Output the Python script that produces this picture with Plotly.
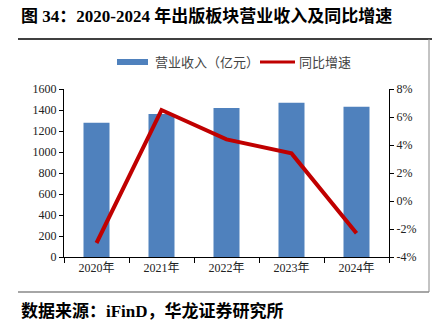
import plotly.graph_objects as go

categories = ["2020年", "2021年", "2022年", "2023年", "2024年"]
revenue = [1279, 1362, 1419, 1470, 1432]
growth = [-3.0, 6.5, 4.4, 3.4, -2.3]
left_ticks = [0, 200, 400, 600, 800, 1000, 1200, 1400, 1600]
right_ticks = [-4, -2, 0, 2, 4, 6, 8]
right_labels = ["-4%", "-2%", "0%", "2%", "4%", "6%", "8%"]
bar_name = "营业收入（亿元）"
line_name = "同比增速"

serif = "Liberation Serif, Noto Sans CJK SC"
cjk = "Noto Sans CJK SC"

W, H = 432, 332
L, R, T, B = 64, 43, 89, 75
PW, PH = W - L - R, H - T - B


def px(x):
    return (x - L) / PW


def py(y):
    return (H - B - y) / PH


fig = go.Figure()
fig.add_trace(go.Bar(
    x=categories, y=revenue, name=bar_name,
    marker=dict(color="#4F81BD", line=dict(width=0)), width=0.4, yaxis="y",
))
fig.add_trace(go.Scatter(
    x=categories, y=growth, name=line_name, mode="lines",
    line=dict(color="#C00000", width=4), yaxis="y2",
))

fig.update_layout(
    width=W, height=H,
    margin=dict(l=L, r=R, t=T, b=B),
    paper_bgcolor="white", plot_bgcolor="white",
    showlegend=False,
    xaxis=dict(type="category", showline=True, linecolor="#000000", linewidth=1,
               ticks="outside", tickson="boundaries", ticklen=5, tickcolor="#000000",
               tickfont=dict(family=serif, size=12, color="#222222"),
               showgrid=False),
    yaxis=dict(range=[0, 1600], tickvals=left_ticks, showline=True, linecolor="#000000",
               linewidth=1, ticks="outside", ticklen=4, tickcolor="#000000",
               tickfont=dict(family=serif, size=12, color="#222222"), showgrid=False,
               zeroline=False),
    yaxis2=dict(range=[-4, 8], tickvals=right_ticks, ticktext=right_labels,
                overlaying="y", side="right", showline=True, linecolor="#000000",
                linewidth=1, ticks="outside", ticklen=4, tickcolor="#000000",
                tickfont=dict(family=serif, size=12, color="#222222"), showgrid=False,
                zeroline=False),
)

# Manual legend
fig.add_shape(type="rect", xref="paper", yref="paper",
              x0=px(117), x1=px(148), y0=py(65), y1=py(59),
              fillcolor="#4F81BD", line=dict(width=0))
fig.add_annotation(text=bar_name, xref="paper", yref="paper", x=px(153), y=py(62),
                   xanchor="left", yanchor="middle", showarrow=False,
                   font=dict(family=cjk, size=13, color="#444444"))
fig.add_shape(type="line", xref="paper", yref="paper",
              x0=px(260), x1=px(295), y0=py(62), y1=py(62),
              line=dict(color="#C00000", width=3))
fig.add_annotation(text=line_name, xref="paper", yref="paper", x=px(297), y=py(62),
                   xanchor="left", yanchor="middle", showarrow=False,
                   font=dict(family=cjk, size=13, color="#444444"))

# Frame lines
fig.add_shape(type="line", xref="paper", yref="paper",
              x0=px(18), x1=px(432), y0=py(39), y1=py(39),
              line=dict(color="#000000", width=1.5))
fig.add_shape(type="line", xref="paper", yref="paper",
              x0=px(429), x1=px(429), y0=py(39), y1=py(292),
              line=dict(color="#888888", width=1))
fig.add_shape(type="line", xref="paper", yref="paper",
              x0=px(18), x1=px(429), y0=py(292), y1=py(292),
              line=dict(color="#888888", width=1.5))

fig.add_annotation(text="<b>图 34：2020-2024 年出版板块营业收入及同比增速</b>",
                   xref="paper", yref="paper", x=px(19), y=py(16),
                   xanchor="left", yanchor="middle", showarrow=False,
                   font=dict(family=serif, size=17, color="#000000"))
fig.add_annotation(text="<b>数据来源：iFinD，华龙证券研究所</b>",
                   xref="paper", yref="paper", x=px(19), y=py(311),
                   xanchor="left", yanchor="middle", showarrow=False,
                   font=dict(family=serif, size=17, color="#000000"))

fig.write_html("out.html")
